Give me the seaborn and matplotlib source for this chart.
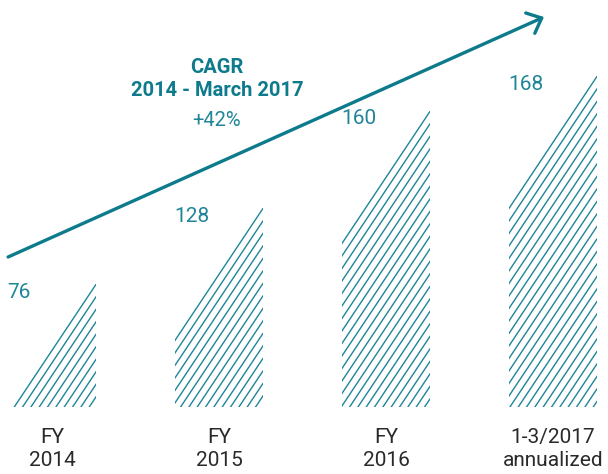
import matplotlib
matplotlib.use("Agg")
import matplotlib.pyplot as plt
import pandas as pd
import seaborn as sns

# data
periods = ["FY\n2014", "FY\n2015", "FY\n2016", "1-3/2017\nannualized"]
values = [76, 128, 160, 168]
# drawn bar heights (the graphic is stylised, heights are not proportional to values)
bar_heights = [123, 199, 296, 331]
cagr_title = "CAGR\n2014 - March 2017"
cagr_value = "+42%"

teal = "#0d7b8c"
teal_light = "#1f8699"

sns.set_style("white")
plt.rcParams["font.family"] = ["Roboto", "DejaVu Sans"]

df = pd.DataFrame({"period": periods, "height": bar_heights})

fig = plt.figure(figsize=(6.08, 4.74), dpi=100)
ax = fig.add_axes([0, 67 / 474, 1, 407 / 474])

sns.barplot(data=df, x="period", y="height", width=0.53, color="white",
            linewidth=0, ax=ax)
ax.set_xlim(-52 / 167, (608 - 52) / 167)
ax.set_ylim(0, 407)

# hatch: lines at the slope of the bar tops, clipped to each bar
px_x = fig.get_figwidth() * fig.dpi / (ax.get_xlim()[1] - ax.get_xlim()[0])
px_y = fig.get_figheight() * fig.dpi * (407 / 474) / 407
slope = 1.5 * px_x / px_y
dy = 12.5 / px_y
for p in ax.patches:
    p.set_facecolor("none")
    p.set_edgecolor("none")
    x0, w, h = p.get_x(), p.get_width(), p.get_height()
    k = 0
    while h - k * dy >= 0:
        yr = h - k * dy
        ln, = ax.plot([x0 + w, x0 - 0.2], [yr, yr - slope * (w + 0.2)],
                      color=teal_light, lw=1.0)
        ln.set_clip_path(p)
        k += 1

for p, v in zip(ax.patches, values):
    ax.text(p.get_x(), p.get_height() - 8, str(v), ha="left", va="center",
            fontsize=15, color=teal_light)

# growth arrow
ax.annotate("", xy=(2.946, 390), xytext=(-0.263, 150),
            arrowprops=dict(arrowstyle="->,head_length=0.45,head_width=0.4",
                            lw=2.4, color=teal, mutation_scale=20,
                            shrinkA=0, shrinkB=0))

ax.text(0.988, 328, cagr_title, ha="center", va="center", fontsize=14.5,
        fontweight="bold", color=teal, linespacing=1.25)
ax.text(0.988, 287, cagr_value, ha="center", va="center", fontsize=14.5,
        color=teal_light)

ax.set_xlabel("")
ax.set_ylabel("")
ax.set_yticks([])
ax.tick_params(axis="x", length=0, pad=15, labelsize=15, labelcolor="#2a2a2a")
for t in ax.get_xticklabels():
    t.set_linespacing(1.25)
sns.despine(ax=ax, left=True, bottom=True)

fig.savefig("out.png", dpi=100)
